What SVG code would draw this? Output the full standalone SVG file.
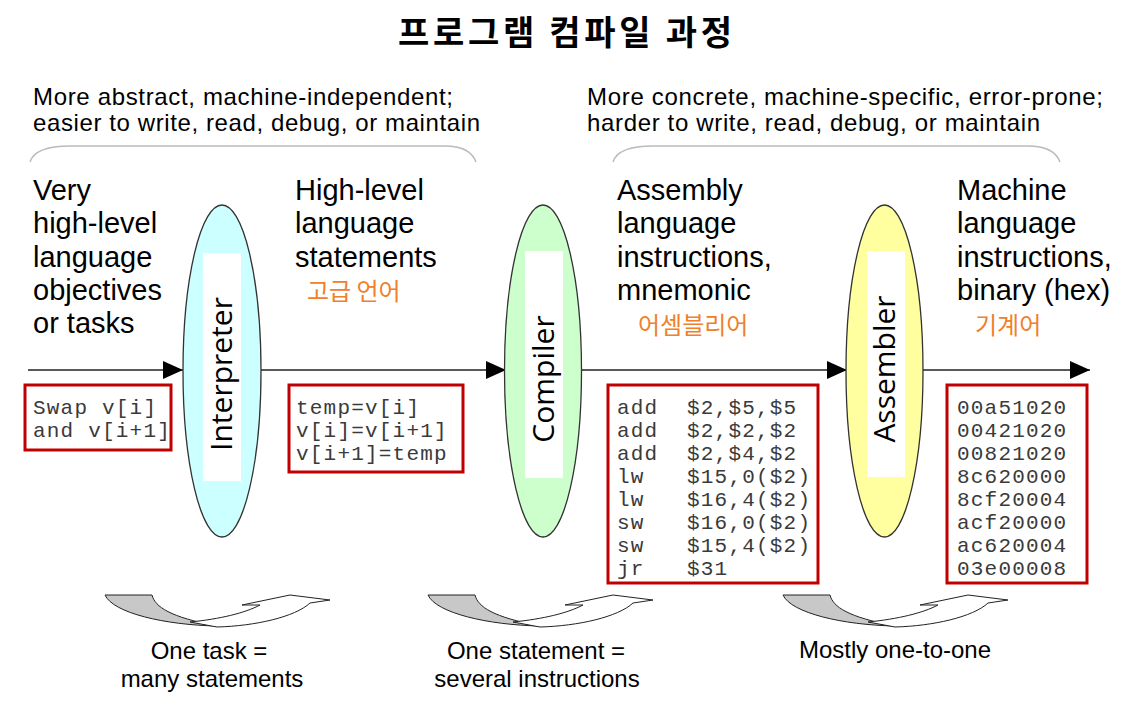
<svg xmlns="http://www.w3.org/2000/svg" xmlns:xlink="http://www.w3.org/1999/xlink" width="1144" height="706" viewBox="0 0 1144 706">
<style>
.title{font-family:"Noto Sans CJK KR","Noto Sans",sans-serif;font-weight:bold;font-size:34px;fill:#000}
.top{font-family:"Liberation Sans",Arial,sans-serif;font-size:24px;fill:#000}
.big{font-family:"Liberation Sans",Arial,sans-serif;font-size:29px;fill:#000}
.kor{font-family:"Noto Sans CJK KR",sans-serif;font-size:24px;fill:#f0802c}
.bot{font-family:"Liberation Sans",Arial,sans-serif;font-size:24px;fill:#000;text-anchor:middle}
.code{font-family:"Liberation Mono","Courier New",monospace;font-size:21px;fill:#3a3a3a;letter-spacing:1.2px}
.box{fill:#fff;stroke:#c00000;stroke-width:3}
.ell{stroke:#333;stroke-width:1.3}
.lab{font-family:"Open Sans","DejaVu Sans",sans-serif;font-size:30px;fill:#000;text-anchor:middle}
.brace{fill:none;stroke:#bbb;stroke-width:1.5}
.line{stroke:#222;stroke-width:1.5;fill:none;marker-end:url(#ah)}
</style>
<defs>
<marker id="ah" viewBox="0 0 20 18" refX="20" refY="9" markerWidth="20" markerHeight="18" markerUnits="userSpaceOnUse" orient="auto">
<path d="M0,0 L20,9 L0,18 Z" fill="#000"/>
</marker>
<g id="curl">
<path d="M0,0 L47,0 C50,12 65,22 112,31 C60,30 8,18 0,0 Z" fill="#c8c8c8" stroke="#222" stroke-width="1"/>
<path d="M85,27 C115,24 140,18 155,10 L137,10 L185,0 L225,5 L205,8 C190,22 150,31 112,32 Z" fill="#fff" stroke="#222" stroke-width="1"/>
</g>
</defs>
<rect width="1144" height="706" fill="#fff"/>
<text class="title" x="398" y="45" textLength="334" lengthAdjust="spacing">프로그램 컴파일 과정</text>

<g id="top-left">
<text class="top" x="33" y="105" textLength="420" lengthAdjust="spacing">More abstract, machine-independent;</text>
<text class="top" x="33" y="131" textLength="447" lengthAdjust="spacing">easier to write, read, debug, or maintain</text>
<path class="brace" d="M30,162 Q35,146 70,146 L445,146 Q470,146 476,162"/>
</g>
<g id="top-right">
<text class="top" x="587" y="105" textLength="516" lengthAdjust="spacing">More concrete, machine-specific, error-prone;</text>
<text class="top" x="587" y="131" textLength="453" lengthAdjust="spacing">harder to write, read, debug, or maintain</text>
<path class="brace" d="M613,162 Q618,146 653,146 L1028,146 Q1054,146 1060,162"/>
</g>

<g id="connectors">
<line class="line" x1="28" y1="370" x2="183" y2="370"/>
<line class="line" x1="261" y1="370" x2="506" y2="370"/>
<line class="line" x1="582" y1="370" x2="847" y2="370"/>
<line class="line" x1="923" y1="370" x2="1090" y2="370"/>
</g>

<g id="very-high-level">
<text class="big" x="33" y="200">Very</text>
<text class="big" x="33" y="233">high-level</text>
<text class="big" x="33" y="267">language</text>
<text class="big" x="33" y="300">objectives</text>
<text class="big" x="33" y="333">or tasks</text>
<rect class="box" x="25" y="385" width="146" height="65"/>
<text class="code" x="33" y="414">Swap v[i]</text>
<text class="code" x="33" y="437">and v[i+1]</text>
</g>

<g id="high-level">
<text class="big" x="295" y="200">High-level</text>
<text class="big" x="295" y="233">language</text>
<text class="big" x="295" y="267">statements</text>
<text class="kor" x="307" y="300">고급 언어</text>
<rect class="box" x="289" y="385" width="174" height="87"/>
<text class="code" x="296" y="414">temp=v[i]</text>
<text class="code" x="296" y="437">v[i]=v[i+1]</text>
<text class="code" x="296" y="460">v[i+1]=temp</text>
</g>

<g id="assembly">
<text class="big" x="617" y="200">Assembly</text>
<text class="big" x="617" y="233">language</text>
<text class="big" x="617" y="267">instructions,</text>
<text class="big" x="617" y="300">mnemonic</text>
<text class="kor" x="638" y="334">어셈블리어</text>
<rect class="box" x="608" y="385" width="210" height="198"/>
<text class="code" x="617" y="414">add<tspan x="687">$2,$5,$5</tspan></text>
<text class="code" x="617" y="437">add<tspan x="687">$2,$2,$2</tspan></text>
<text class="code" x="617" y="460">add<tspan x="687">$2,$4,$2</tspan></text>
<text class="code" x="617" y="483">lw<tspan x="687">$15,0($2)</tspan></text>
<text class="code" x="617" y="506">lw<tspan x="687">$16,4($2)</tspan></text>
<text class="code" x="617" y="529">sw<tspan x="687">$16,0($2)</tspan></text>
<text class="code" x="617" y="552">sw<tspan x="687">$15,4($2)</tspan></text>
<text class="code" x="617" y="575">jr<tspan x="687">$31</tspan></text>
</g>

<g id="machine">
<text class="big" x="957" y="200">Machine</text>
<text class="big" x="957" y="233">language</text>
<text class="big" x="957" y="267">instructions,</text>
<text class="big" x="957" y="300">binary (hex)</text>
<text class="kor" x="975" y="334">기계어</text>
<rect class="box" x="947" y="385" width="140" height="198"/>
<text class="code" x="957" y="414">00a51020</text>
<text class="code" x="957" y="437">00421020</text>
<text class="code" x="957" y="460">00821020</text>
<text class="code" x="957" y="483">8c620000</text>
<text class="code" x="957" y="506">8cf20004</text>
<text class="code" x="957" y="529">acf20000</text>
<text class="code" x="957" y="552">ac620004</text>
<text class="code" x="957" y="575">03e00008</text>
</g>

<g id="interpreter">
<ellipse class="ell" cx="222" cy="371" rx="39" ry="166" fill="#ccffff"/>
<rect x="203" y="253" width="38" height="228" fill="#fff"/>
<text class="lab" transform="translate(232,374) rotate(-90)" x="0" y="0">Interpreter</text>
</g>
<g id="compiler">
<ellipse class="ell" cx="543" cy="371" rx="38.5" ry="166" fill="#ccffcc"/>
<rect x="525" y="251" width="38" height="227" fill="#fff"/>
<text class="lab" transform="translate(554,379) rotate(-90)" x="0" y="0">Compiler</text>
</g>
<g id="assembler">
<ellipse class="ell" cx="884.5" cy="371" rx="38.5" ry="166" fill="#ffffa0"/>
<rect x="867" y="251" width="38" height="226" fill="#fff"/>
<text class="lab" transform="translate(895,369) rotate(-90)" x="0" y="0">Assembler</text>
</g>

<g id="note-1">
<use xlink:href="#curl" transform="translate(105,595)"/>
<text class="bot" x="209" y="659">One task =</text>
<text class="bot" x="212" y="687">many statements</text>
</g>
<g id="note-2">
<use xlink:href="#curl" transform="translate(428,595)"/>
<text class="bot" x="536" y="659">One statement =</text>
<text class="bot" x="537" y="687">several instructions</text>
</g>
<g id="note-3">
<use xlink:href="#curl" transform="translate(783,595)"/>
<text class="bot" x="895" y="658">Mostly one-to-one</text>
</g>
</svg>
